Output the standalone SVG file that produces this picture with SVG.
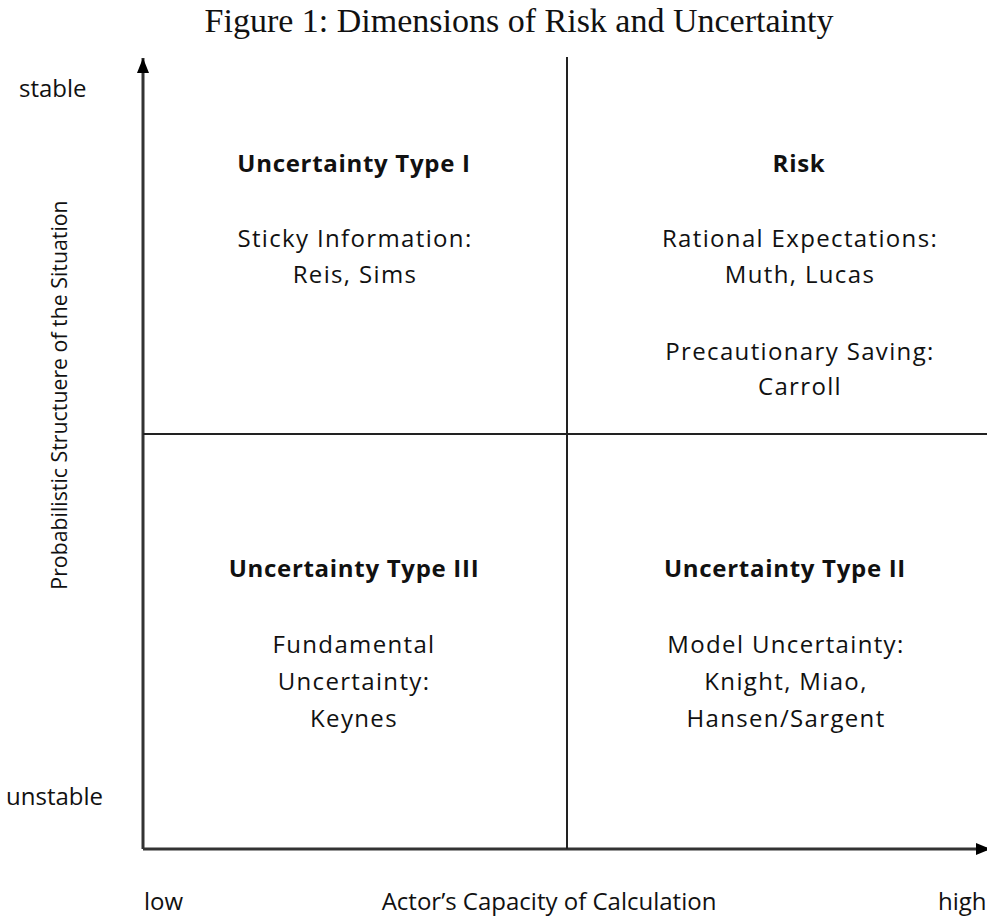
<svg xmlns="http://www.w3.org/2000/svg" width="987" height="918" viewBox="0 0 987 918">
<defs>
<style>
.t{font-family:"Open Sans","Noto Sans","Liberation Sans",sans-serif;font-size:24px;fill:#111;text-anchor:middle;letter-spacing:1.35px}
.b{font-weight:bold;letter-spacing:0.7px}
.a{font-family:"Open Sans","Noto Sans","Liberation Sans",sans-serif;font-size:24px;fill:#111}
.m{text-anchor:middle}
.title{font-family:"Liberation Serif","DejaVu Serif",serif;font-size:34px;fill:#111;text-anchor:middle}
.ax{stroke:#333;stroke-width:3;fill:none}
.ln{stroke:#222;stroke-width:2;fill:none}
</style>
<marker id="ah" viewBox="0 0 10 8" refX="10" refY="4" markerWidth="5" markerHeight="4" markerUnits="strokeWidth" orient="auto">
<path d="M0,0 L10,4 L0,8 z" fill="#000"/>
</marker>
</defs>
<rect width="987" height="918" fill="#fff"/>
<text class="title" x="519" y="32">Figure 1: Dimensions of Risk and Uncertainty</text>
<g id="connectors">
<line class="ax" x1="143" y1="849" x2="143" y2="58" marker-end="url(#ah)"/>
<line class="ax" x1="143" y1="849" x2="991" y2="849" marker-end="url(#ah)"/>
<line class="ln" x1="567" y1="57" x2="567" y2="849"/>
<line class="ln" x1="143" y1="434" x2="987" y2="434"/>
</g>
<g id="axis-labels">
<text class="a" x="19" y="97">stable</text>
<text class="a" x="6" y="805">unstable</text>
<text class="a" x="144" y="910">low</text>
<text class="a m" x="549" y="910">Actor’s Capacity of Calculation</text>
<text class="a" x="938" y="910">high</text>
<text class="a m" style="font-size:21.3px" transform="translate(67,395) rotate(-90)">Probabilistic Structuere of the Situation</text>
</g>
<g id="q1">
<text class="t b" x="354" y="172">Uncertainty Type I</text>
<text class="t" x="355" y="247">Sticky Information:</text>
<text class="t" x="355" y="283">Reis, Sims</text>
</g>
<g id="q2">
<text class="t b" x="799" y="172">Risk</text>
<text class="t" x="800" y="247">Rational Expectations:</text>
<text class="t" x="800" y="283">Muth, Lucas</text>
<text class="t" x="800" y="360">Precautionary Saving:</text>
<text class="t" x="800" y="395">Carroll</text>
</g>
<g id="q3">
<text class="t b" x="354" y="577">Uncertainty Type III</text>
<text class="t" x="354" y="653">Fundamental</text>
<text class="t" x="354" y="690">Uncertainty:</text>
<text class="t" x="354" y="727">Keynes</text>
</g>
<g id="q4">
<text class="t b" x="785" y="577">Uncertainty Type II</text>
<text class="t" x="786" y="653">Model Uncertainty:</text>
<text class="t" x="786" y="690">Knight, Miao,</text>
<text class="t" x="786" y="727">Hansen/Sargent</text>
</g>
</svg>
